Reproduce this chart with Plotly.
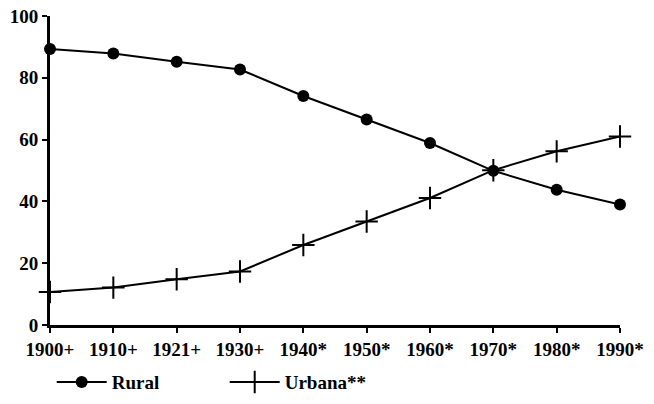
import plotly.graph_objects as go

years = ["1900+", "1910+", "1921+", "1930+", "1940*", "1950*", "1960*", "1970*", "1980*", "1990*"]
rural = [89.3, 87.9, 85.2, 82.7, 74.1, 66.5, 58.9, 49.9, 43.8, 39.0]
urbana = [10.7, 12.1, 14.8, 17.3, 25.9, 33.5, 41.1, 50.1, 56.2, 61.0]
y_ticks = [0, 20, 40, 60, 80, 100]

xi = list(range(len(years)))
font_family = "Liberation Serif"

fig = go.Figure()
fig.add_trace(go.Scatter(
    x=xi, y=rural, name="<b>Rural</b>", mode="lines+markers",
    line=dict(color="black", width=2),
    marker=dict(symbol="circle", size=12, color="black"),
    cliponaxis=False,
))
fig.add_trace(go.Scatter(
    x=xi, y=urbana, name="<b>Urbana**</b>", mode="lines+markers",
    line=dict(color="black", width=2),
    marker=dict(symbol="cross-thin", size=16, color="black",
                line=dict(color="black", width=2)),
    cliponaxis=False,
))

fig.update_layout(
    width=654, height=404,
    margin=dict(l=50, r=34, t=16, b=79, autoexpand=False),
    paper_bgcolor="white", plot_bgcolor="white",
    font=dict(family=font_family, color="black", size=18),
    showlegend=True,
    legend=dict(orientation="h", x=0.003, y=-0.185, xanchor="left", yanchor="middle",
                font=dict(family=font_family, size=19), entrywidth=108,
                itemwidth=50, bgcolor="rgba(0,0,0,0)"),
    xaxis=dict(
        range=[0, 9], tickmode="array", tickvals=xi,
        ticktext=["<b>%s</b>" % t for t in years],
        showline=True, linecolor="black", linewidth=3,
        ticks="outside", ticklen=5, tickwidth=2, tickcolor="black",
        showgrid=False, zeroline=False, automargin=False,
        tickfont=dict(family=font_family, size=19),
    ),
    yaxis=dict(
        range=[0, 100], tickmode="array", tickvals=y_ticks,
        ticktext=["<b>%d</b>" % v for v in y_ticks],
        showline=True, linecolor="black", linewidth=3,
        ticks="outside", ticklen=5, tickwidth=2, tickcolor="black",
        showgrid=False, zeroline=False, automargin=False,
        tickfont=dict(family=font_family, size=19),
    ),
)

fig.write_html("out.html", config={"displayModeBar": False},
               post_script="document.body.style.margin='0';")
